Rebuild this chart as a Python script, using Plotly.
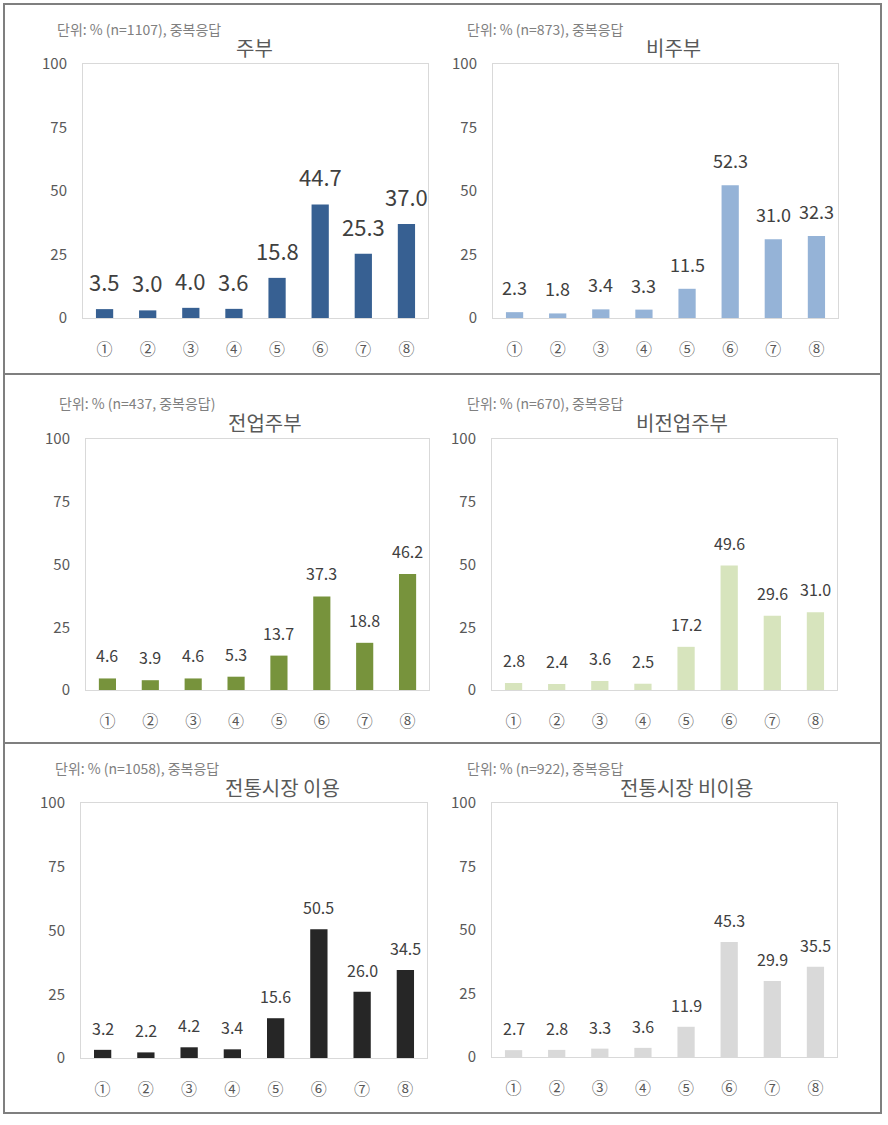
import plotly.graph_objects as go

W, H = 888, 1125

categories = ["①", "②", "③", "④", "⑤", "⑥", "⑦", "⑧"]
y_ticks = [0, 25, 50, 75, 100]

titles = ["주부", "비주부", "전업주부", "비전업주부", "전통시장 이용", "전통시장 비이용"]
notes = [
    "단위: % (n=1107), 중복응답",
    "단위: % (n=873), 중복응답",
    "단위: % (n=437, 중복응답)",
    "단위: % (n=670), 중복응답",
    "단위: % (n=1058), 중복응답",
    "단위: % (n=922), 중복응답",
]

v_housewife = [3.5, 3.0, 4.0, 3.6, 15.8, 44.7, 25.3, 37.0]
v_non_housewife = [2.3, 1.8, 3.4, 3.3, 11.5, 52.3, 31.0, 32.3]
v_fulltime = [4.6, 3.9, 4.6, 5.3, 13.7, 37.3, 18.8, 46.2]
v_non_fulltime = [2.8, 2.4, 3.6, 2.5, 17.2, 49.6, 29.6, 31.0]
v_market_use = [3.2, 2.2, 4.2, 3.4, 15.6, 50.5, 26.0, 34.5]
v_market_nonuse = [2.7, 2.8, 3.3, 3.6, 11.9, 45.3, 29.9, 35.5]

series = [v_housewife, v_non_housewife, v_fulltime, v_non_fulltime, v_market_use, v_market_nonuse]
colors = ["#376092", "#95B3D7", "#77933C", "#D7E4BD", "#262626", "#D9D9D9"]

# panel geometry in pixels: plot area (x0, x1, y0, y1), title centre (x, y), note left/centre (x, y)
panels = [
    dict(plot=(83, 428, 64, 318), title=(254, 47), note=(55, 29), lab=22, gap=10),
    dict(plot=(493, 838, 64, 318), title=(673, 47), note=(465, 29), lab=18, gap=10),
    dict(plot=(86, 429, 439, 690), title=(265, 422), note=(57, 403), lab=16, gap=9),
    dict(plot=(492, 837, 439, 690), title=(682, 422), note=(465, 403), lab=16, gap=9),
    dict(plot=(81, 427, 803, 1058), title=(282, 787), note=(53, 768), lab=16, gap=8),
    dict(plot=(492, 837, 803, 1057), title=(686, 787), note=(465, 768), lab=16, gap=8),
]

FONT = "Noto Sans CJK KR"


def px(x):
    return x / W


def py(y):
    return 1 - y / H


fig = go.Figure()
layout = dict(
    template="none",
    width=W, height=H, autosize=False,
    margin=dict(l=0, r=0, t=0, b=0, pad=0),
    paper_bgcolor="white", plot_bgcolor="white",
    showlegend=False,
    font=dict(family=FONT, color="#595959"),
)
annotations = []
shapes = []

for i, (vals, col, p) in enumerate(zip(series, colors, panels)):
    k = "" if i == 0 else str(i + 1)
    x0, x1, y0, y1 = p["plot"]
    fig.add_trace(go.Bar(
        x=categories, y=vals, marker=dict(color=col, line=dict(width=0)),
        width=0.4, xaxis="x" + k, yaxis="y" + k, hoverinfo="skip",
    ))
    layout["xaxis" + k] = dict(
        domain=[px(x0), px(x1)], anchor="y" + k, automargin=False,
        range=[-0.5, 7.5], showline=True, mirror=True, linecolor="#D9D9D9", linewidth=1,
        ticks="", showgrid=False, zeroline=False, fixedrange=True,
        tickfont=dict(size=16, color="#595959", family=FONT),
        ticklabelstandoff=17,
    )
    layout["yaxis" + k] = dict(
        domain=[py(y1), py(y0)], anchor="x" + k, automargin=False,
        range=[0, 100], tickvals=y_ticks, showline=True, mirror=True,
        linecolor="#D9D9D9", linewidth=1, ticks="", showgrid=False, zeroline=False,
        tickfont=dict(size=15, color="#595959", family=FONT),
        ticklabelstandoff=12, fixedrange=True,
    )
    for c, v in zip(categories, vals):
        annotations.append(dict(
            x=c, y=v, xref="x" + k, yref="y" + k, text=f"{v:.1f}",
            showarrow=False, yanchor="bottom", yshift=p["gap"],
            font=dict(size=p["lab"], color="#404040", family=FONT),
        ))
    tx, ty = p["title"]
    annotations.append(dict(
        x=px(tx), y=py(ty), xref="paper", yref="paper", text=titles[i],
        showarrow=False, xanchor="center", yanchor="middle",
        font=dict(size=20, color="#595959", family=FONT),
    ))
    nx, ny = p["note"]
    annotations.append(dict(
        x=px(nx), y=py(ny), xref="paper", yref="paper", text=notes[i],
        showarrow=False, xanchor="left", yanchor="middle",
        font=dict(size=14, color="#808080", family=FONT),
    ))

# outer border and row dividers
border = "#7F7F7F"
shapes.append(dict(type="rect", xref="paper", yref="paper",
                   x0=px(4), x1=px(881), y0=py(1113), y1=py(4),
                   line=dict(color=border, width=2)))
for yy in (374, 743):
    shapes.append(dict(type="line", xref="paper", yref="paper",
                       x0=px(4), x1=px(882), y0=py(yy), y1=py(yy),
                       line=dict(color=border, width=2)))

layout["annotations"] = annotations
layout["shapes"] = shapes
fig.update_layout(**layout)
fig.write_html(
    "out.html",
    config={"displayModeBar": False},
    post_script="document.documentElement.style.margin='0';document.body.style.margin='0';"
                "document.body.style.overflow='hidden';",
)
